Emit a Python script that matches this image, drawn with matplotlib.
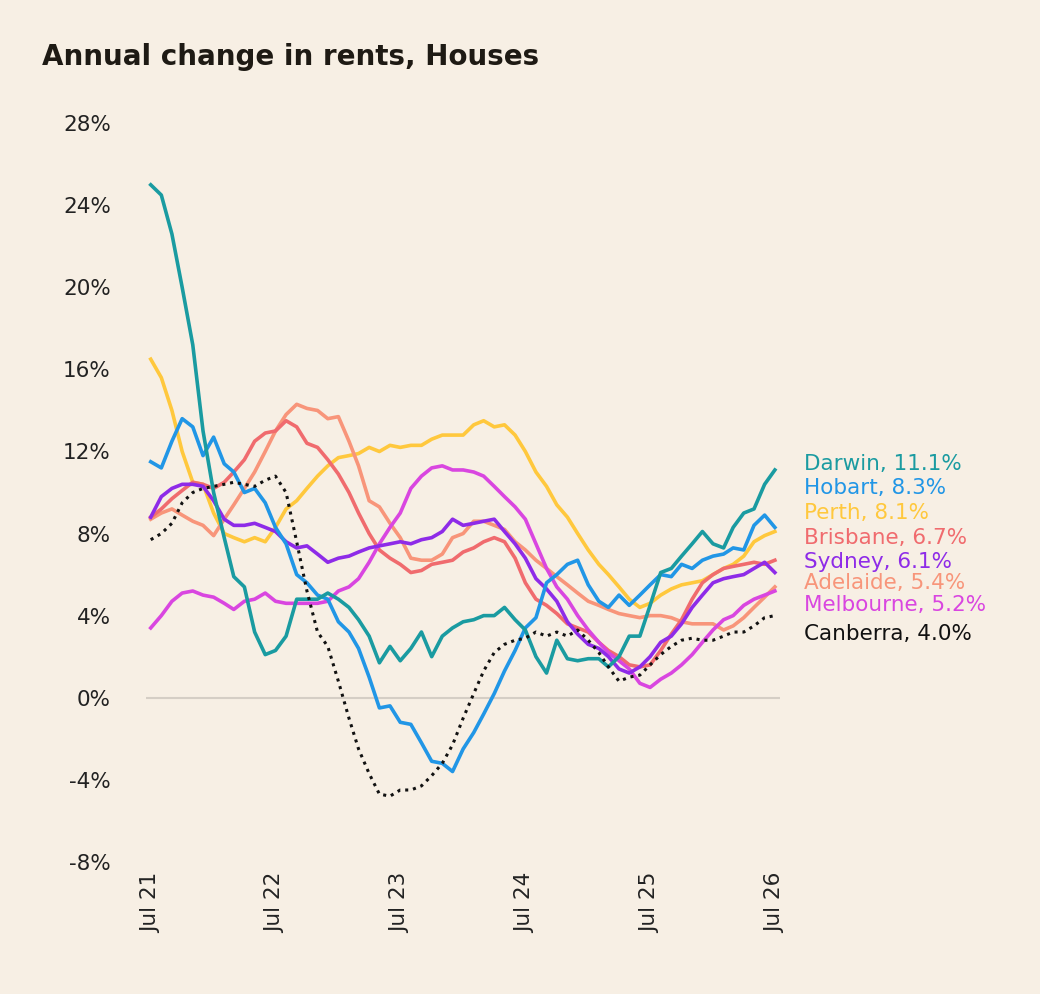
import matplotlib
matplotlib.use("Agg")
import matplotlib.pyplot as plt
import pandas as pd

darwin = [25, 24.5, 22.6, 20, 17.2, 13, 10, 7.8, 5.9, 5.4, 3.2, 2.1,
          2.3, 3, 4.8, 4.8, 4.8, 5.1, 4.8, 4.4, 3.8, 3, 1.7, 2.5,
          1.8, 2.4, 3.2, 2, 3, 3.4, 3.7, 3.8, 4, 4, 4.4, 3.8,
          3.3, 2, 1.2, 2.8, 1.9, 1.8, 1.9, 1.9, 1.5, 2, 3, 3,
          4.5, 6.1, 6.3, 6.9, 7.5, 8.1, 7.5, 7.3, 8.3, 9, 9.2, 10.4, 11.1]
hobart = [11.5, 11.2, 12.5, 13.6, 13.2, 11.8, 12.7, 11.4, 11, 10, 10.2, 9.5,
          8.3, 7.5, 6, 5.6, 5, 4.8, 3.7, 3.2, 2.4, 1, -0.5, -0.4,
          -1.2, -1.3, -2.2, -3.1, -3.2, -3.6, -2.5, -1.7, -0.8, 0.2, 1.3, 2.3,
          3.4, 3.9, 5.6, 6, 6.5, 6.7, 5.5, 4.7, 4.4, 5, 4.5, 5,
          5.5, 6, 5.9, 6.5, 6.3, 6.7, 6.9, 7, 7.3, 7.2, 8.4, 8.9, 8.3]
perth = [16.5, 15.6, 14, 12, 10.5, 10.4, 9, 8, 7.8, 7.6, 7.8, 7.6,
         8.3, 9.2, 9.6, 10.2, 10.8, 11.3, 11.7, 11.8, 11.9, 12.2, 12, 12.3,
         12.2, 12.3, 12.3, 12.6, 12.8, 12.8, 12.8, 13.3, 13.5, 13.2, 13.3, 12.8,
         12, 11, 10.3, 9.4, 8.8, 8, 7.2, 6.5, 6, 5.4, 4.8, 4.4,
         4.6, 5, 5.3, 5.5, 5.6, 5.7, 6, 6.3, 6.5, 6.9, 7.6, 7.9, 8.1]
brisbane = [8.8, 9.2, 9.7, 10.1, 10.5, 10.4, 10.2, 10.5, 11, 11.6, 12.5, 12.9,
            13, 13.5, 13.2, 12.4, 12.2, 11.6, 10.9, 10, 9, 8, 7.2, 6.8,
            6.5, 6.1, 6.2, 6.5, 6.6, 6.7, 7.1, 7.3, 7.6, 7.8, 7.6, 6.8,
            5.6, 4.8, 4.5, 4.1, 3.6, 3.4, 3.2, 2.7, 2.3, 2, 1.6, 1.5,
            1.6, 2.3, 3.1, 3.8, 4.8, 5.6, 6, 6.3, 6.4, 6.5, 6.6, 6.5, 6.7]
adelaide = [8.7, 9, 9.2, 8.9, 8.6, 8.4, 7.9, 8.7, 9.4, 10.2, 11, 12,
            13, 13.8, 14.3, 14.1, 14, 13.6, 13.7, 12.5, 11.3, 9.6, 9.3, 8.5,
            7.8, 6.8, 6.7, 6.7, 7, 7.8, 8, 8.6, 8.6, 8.4, 8.2, 7.6,
            7.2, 6.7, 6.3, 5.9, 5.5, 5.1, 4.7, 4.5, 4.3, 4.1, 4, 3.9,
            4, 4, 3.9, 3.7, 3.6, 3.6, 3.6, 3.3, 3.5, 3.9, 4.4, 4.9, 5.4]
sydney = [8.8, 9.8, 10.2, 10.4, 10.4, 10.3, 9.6, 8.7, 8.4, 8.4, 8.5, 8.3,
          8.1, 7.6, 7.3, 7.4, 7, 6.6, 6.8, 6.9, 7.1, 7.3, 7.4, 7.5,
          7.6, 7.5, 7.7, 7.8, 8.1, 8.7, 8.4, 8.5, 8.6, 8.7, 8.1, 7.5,
          6.8, 5.8, 5.3, 4.7, 3.7, 3.1, 2.6, 2.4, 2, 1.4, 1.2, 1.5,
          2, 2.7, 3, 3.6, 4.4, 5, 5.6, 5.8, 5.9, 6, 6.3, 6.6, 6.1]
melbourne = [3.4, 4, 4.7, 5.1, 5.2, 5, 4.9, 4.6, 4.3, 4.7, 4.8, 5.1,
             4.7, 4.6, 4.6, 4.6, 4.6, 4.7, 5.2, 5.4, 5.8, 6.6, 7.5, 8.3,
             9, 10.2, 10.8, 11.2, 11.3, 11.1, 11.1, 11, 10.8, 10.3, 9.8, 9.3,
             8.7, 7.5, 6.3, 5.4, 4.8, 4, 3.3, 2.7, 2.2, 1.8, 1.4, 0.7,
             0.5, 0.9, 1.2, 1.6, 2.1, 2.7, 3.3, 3.8, 4, 4.5, 4.8, 5, 5.2]
canberra = [7.7, 8, 8.5, 9.5, 10, 10.2, 10.3, 10.4, 10.5, 10.4, 10.3, 10.6,
            10.8, 10, 7.6, 5.2, 3.2, 2.5, 0.8, -1, -2.5, -3.7, -4.7, -4.8,
            -4.5, -4.5, -4.3, -3.8, -3.2, -2.3, -1, 0.2, 1.3, 2.2, 2.6, 2.8,
            2.9, 3.2, 3, 3.2, 3, 3.3, 2.8, 2.2, 1.5, 0.8, 1, 1.1,
            1.6, 2.1, 2.5, 2.8, 2.9, 2.8, 2.8, 3, 3.2, 3.2, 3.5, 3.9, 4.0]

names = ["Darwin", "Hobart", "Perth", "Brisbane", "Sydney", "Adelaide", "Melbourne", "Canberra"]
series = [darwin, hobart, perth, brisbane, sydney, adelaide, melbourne, canberra]
colors = ["#1A9BA1", "#2196E6", "#FFC83D", "#F06B6E", "#8E2BE8", "#F8957A", "#D946E0", "#111111"]
label_y = [11.4, 10.2, 9.0, 7.8, 6.6, 5.6, 4.5, 3.1]
order = ["Perth", "Adelaide", "Brisbane", "Melbourne", "Sydney", "Hobart", "Darwin", "Canberra"]

bg = "#F7EFE4"
fig = plt.figure(figsize=(10.4, 9.94), dpi=100, facecolor=bg)
ax = fig.add_axes([0.14, 0.133, 0.61, 0.743], facecolor=bg)

dates = pd.date_range("2021-07-01", periods=61, freq="MS")
ax.axhline(0, color="#D5CEC5", lw=1.5, zorder=1)
for nm in order:
    i = names.index(nm)
    s = series[i]
    d = dates[:len(s)]
    if nm == "Canberra":
        ax.plot(d, s, color=colors[i], lw=2.2, ls=(0, (1, 1.6)), zorder=3)
    else:
        ax.plot(d, s, color=colors[i], lw=2.6, zorder=2)

xend = dates[-1] + pd.Timedelta(days=85)
for i, nm in enumerate(names):
    ax.text(xend, label_y[i], f"{nm}, {series[i][-1]:.1f}%", color=colors[i],
            fontsize=15.5, va="center", ha="left", clip_on=False)

ax.set_ylim(-8, 28)
ax.set_yticks(range(-8, 29, 4))
ax.set_yticklabels([f"{v}%" for v in range(-8, 29, 4)], fontsize=15.5, color="#222")
ax.set_xlim(dates[0] - pd.Timedelta(days=15), dates[-1] + pd.Timedelta(days=15))
ticks = pd.date_range("2021-07-01", periods=6, freq="12MS")
ax.set_xticks(ticks)
ax.set_xticklabels([f"Jul {t.year % 100}" for t in ticks], rotation=90, fontsize=15.5, color="#222")
ax.tick_params(length=0, pad=8)
ax.tick_params(axis="y", pad=25)
for sp in ax.spines.values():
    sp.set_visible(False)

fig.text(0.04, 0.935, "Annual change in rents, Houses", fontsize=20, fontweight="bold", color="#1E1A14")
fig.savefig("out.png", facecolor=bg)
